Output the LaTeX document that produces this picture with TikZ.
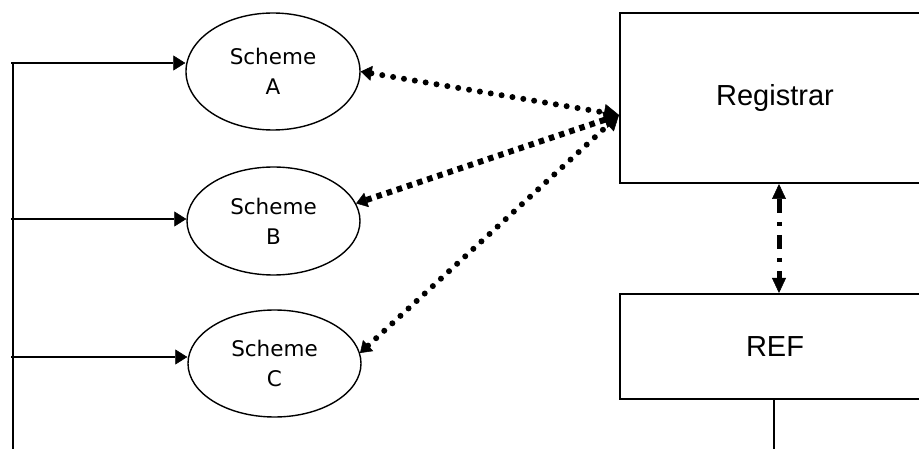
\documentclass[tikz,border=0pt]{standalone}
\usepackage{fontspec}
\setmainfont{DejaVu Sans}
\newfontfamily\boxfont{Liberation Sans}
\usetikzlibrary{arrows.meta,shapes.geometric}

\tikzset{
  scheme/.style={ellipse, draw, line width=1.4pt, inner sep=0pt,
    align=center, font=\fontsize{21.5}{30}\selectfont},
  party/.style={rectangle, draw, line width=2pt, minimum width=310pt,
    inner sep=0pt, font=\boxfont\fontsize{29}{34}\selectfont},
  feed/.style={line width=2.3pt,
    -{Triangle[length=12pt,width=15pt,line width=0.5pt]}},
  tipsz/.style={{Triangle[length=11pt,width=15pt,line width=0.5pt]}-{Triangle[length=15pt,width=17pt,line width=0.5pt]}},
  rounddots/.style={tipsz, line width=6pt, line cap=round,
    dash pattern=on 0pt off 11pt},
  squaredots/.style={tipsz, line width=6pt, line cap=butt,
    dash pattern=on 5.5pt off 5.2pt},
  dashdot/.style={line width=5pt, line cap=butt,
    dash pattern=on 14pt off 9pt on 4pt off 9pt,
    {Triangle[length=15pt,width=14pt,line width=0.5pt]}-{Triangle[length=15pt,width=14pt,line width=0.5pt]}},
  thin/.style={line width=1.4pt},
}

\begin{document}
\begin{tikzpicture}[x=1pt,y=-1pt]
  \useasboundingbox (0,0) rectangle (919,449);
  \clip (0,0) rectangle (919,449);

  % schemes
  \node[scheme, minimum width=174pt, minimum height=117pt] (A) at (273,71.5) {Scheme\\A};
  \node[scheme, minimum width=173pt, minimum height=108pt] (B) at (273.5,221) {Scheme\\B};
  \node[scheme, minimum width=173pt, minimum height=107pt] (C) at (274.5,363.5) {Scheme\\C};

  % registrar and REF
  \node[party, minimum height=170pt] (R) at (775,98) {Registrar};
  \node[party, minimum height=105pt] (F) at (775,346.5) {REF};

  % trunk on the left feeding the schemes
  \coordinate (trunkTop) at (13,63);
  \coordinate (trunkBot) at (13,449);
  \coordinate (tapA) at (11,63);
  \coordinate (tapB) at (11,219);
  \coordinate (tapC) at (11,357);
  \draw[line width=2.2pt] (trunkTop) -- (trunkBot);
  \draw[feed] (tapA) -- (A.west |- tapA);
  \draw[feed] (tapB) -- (B.west |- tapB);
  \draw[feed] (tapC) -- (C.west |- tapC);

  % scheme <-> registrar links
  \draw[rounddots] (A.east) -- ([yshift=-17pt]R.west);
  \draw[squaredots] (B.12) -- ([yshift=-17pt]R.west);
  \draw[rounddots] (C.7) -- ([yshift=-17pt]R.west);

  % registrar <-> REF
  \draw[dashdot] (R.south -| 779,0) -- (F.north -| 779,0);

  % line below REF
  \coordinate (refOut) at (774,449);
  \draw[thin] (F.south -| refOut) -- (refOut);
\end{tikzpicture}
\end{document}
